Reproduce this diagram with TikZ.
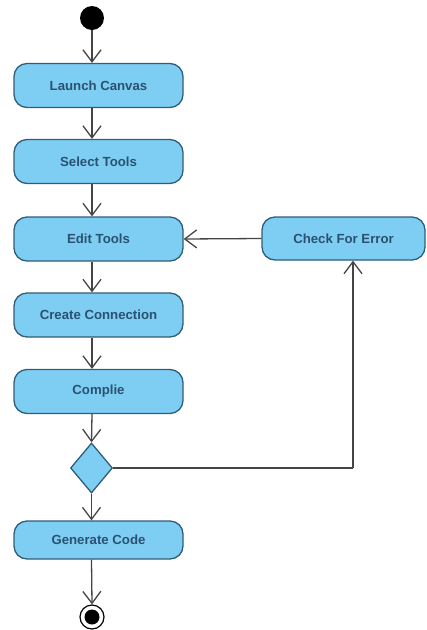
\documentclass[tikz,border=0pt]{standalone}
\usepackage{fontspec}
\setmainfont{Liberation Sans}
\usetikzlibrary{arrows.meta,shapes.geometric}
\definecolor{actfill}{HTML}{7ECDF3}
\definecolor{actline}{HTML}{2F5E78}
\definecolor{acttext}{HTML}{2A5270}
\definecolor{conn}{HTML}{454545}
\tikzset{
  act/.style={draw=actline, fill=actfill, line width=1.3pt, rounded corners=13pt,
    minimum width=169pt, minimum height=44pt, inner sep=0pt,
    text=acttext, font=\fontsize{13.2}{15}\selectfont\bfseries},
  decis/.style={diamond, draw=actline, fill=actfill, line width=1.3pt,
    minimum width=42pt, minimum height=50pt, inner sep=0pt},
  arr/.style={draw=conn, line width=1.3pt,
    -{Straight Barb[length=12pt,width=18pt,line width=1.3pt]}},
  ln/.style={draw=conn, line width=1.3pt}
}
\begin{document}
\begin{tikzpicture}[x=1pt,y=-1pt]
\useasboundingbox (0,0) rectangle (427,630);
\node[circle, fill=black, minimum size=24pt, inner sep=0pt] (start) at (92,18) {};
\node[act] (launch) at (98.5,85.5) {Launch Canvas};
\node[act] (select) at (98.5,161.5) {Select Tools};
\node[act] (edit) at (98.5,239) {Edit Tools};
\node[act, minimum width=163pt, minimum height=43pt] (check) at (343.5,238.5) {Check For Error};
\node[act] (create) at (98.5,315) {Create Connection};
\node[act] (compile) at (98.5,391.5) {Complie};
\node[decis] (dec) at (91.5,468) {};
\node[act, minimum height=38pt] (gen) at (98.5,540) {Generate Code};
\node[circle, draw=black, line width=1.2pt, minimum size=24pt, inner sep=0pt] (end) at (92,617) {};
\node[circle, fill=black, minimum size=15pt, inner sep=0pt] at (end) {};
\draw[arr] (start) -- (start |- launch.north);
\draw[arr] (start |- launch.south) -- (start |- select.north);
\draw[arr] (start |- select.south) -- (start |- edit.north);
\draw[arr] (start |- edit.south) -- (start |- create.north);
\draw[arr] (start |- create.south) -- (start |- compile.north);
\draw[arr] (start |- compile.south) -- (dec.north);
\draw[arr] (dec.south) -- (dec.south |- gen.north);
\draw[arr] (dec.south |- gen.south) -- (end.north);
\coordinate (corner) at (353,468);
\draw[ln] (dec.east) -- (corner);
\draw[arr] (corner) -- (corner |- check.south);
\draw[arr] (check.west) -- (edit.east);
\end{tikzpicture}
\end{document}
